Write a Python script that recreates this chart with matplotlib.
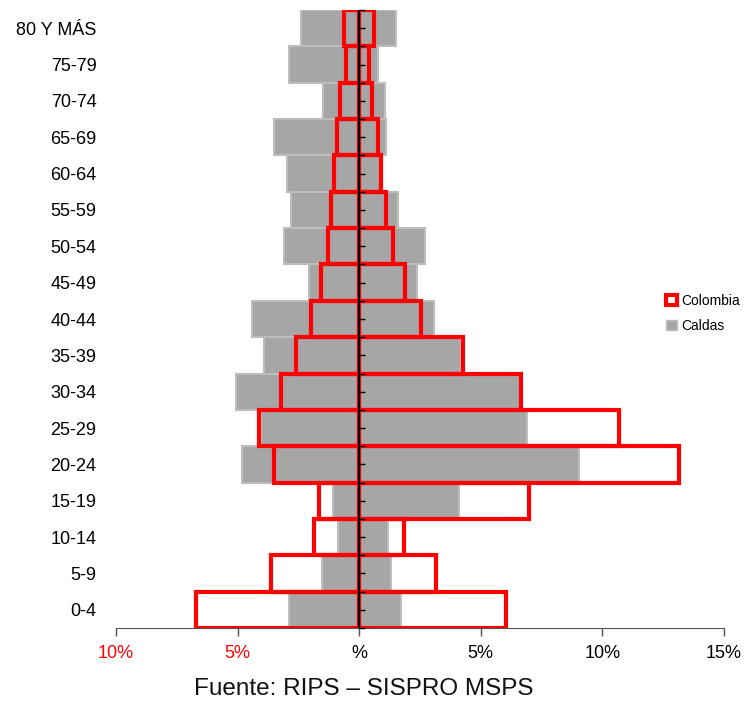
import matplotlib
matplotlib.use("Agg")
import matplotlib.pyplot as plt
import matplotlib.patches as mpatches
import numpy as np

# Age groups, bottom to top
age_groups = ["0-4", "5-9", "10-14", "15-19", "20-24", "25-29", "30-34", "35-39",
              "40-44", "45-49", "50-54", "55-59", "60-64", "65-69", "70-74",
              "75-79", "80 Y MÁS"]

# Share of population (%) per side of the pyramid
caldas_left = [2.88, 1.52, 0.88, 1.06, 4.80, 4.05, 5.08, 3.90, 4.40, 2.07,
               3.08, 2.79, 2.96, 3.52, 1.48, 2.88, 2.39]
caldas_right = [1.71, 1.31, 1.20, 4.10, 9.03, 6.92, 6.60, 4.20, 3.07, 2.39,
                2.72, 1.58, 0.95, 1.09, 1.07, 0.79, 1.51]
colombia_left = [6.70, 3.62, 1.84, 1.67, 3.52, 4.10, 3.22, 2.58, 1.98, 1.57,
                 1.30, 1.18, 1.02, 0.93, 0.79, 0.53, 0.63]
colombia_right = [6.03, 3.17, 1.84, 6.99, 13.13, 10.68, 6.65, 4.25, 2.55, 1.87,
                  1.38, 1.12, 0.89, 0.76, 0.54, 0.41, 0.60]

x_ticks = [-10, -5, 0, 5, 10, 15]
x_tick_labels = ["10%", "5%", "%", "5%", "10%", "15%"]

GRAY = "#a6a6a6"
GRAY_EDGE = "#bdbdbd"
RED = "#ff0000"

plt.rcParams["font.family"] = ["Liberation Sans", "DejaVu Sans"]

fig = plt.figure(figsize=(7.46, 7.01), dpi=100, facecolor="white")
ax = fig.add_axes([0.1555, 0.1041, 0.815, 0.8816])

y = np.arange(len(age_groups))

# Caldas: filled gray bars
ax.barh(y, [-v for v in caldas_left], height=1.0, color=GRAY,
        edgecolor=GRAY_EDGE, linewidth=1.5, zorder=2)
ax.barh(y, caldas_right, height=1.0, color=GRAY,
        edgecolor=GRAY_EDGE, linewidth=1.5, zorder=2)

# Colombia: red outlines
ax.barh(y, [-v for v in colombia_left], height=1.0, fill=False,
        edgecolor=RED, linewidth=3, zorder=3)
ax.barh(y, colombia_right, height=1.0, fill=False,
        edgecolor=RED, linewidth=3, zorder=3)

ax.axvline(0, color="black", linewidth=1.5, zorder=4)

ax.set_xlim(-10, 15)
ax.set_ylim(-0.5, len(age_groups) - 0.5)

ax.set_xticks(x_ticks)
ax.set_xticklabels(x_tick_labels, fontsize=13)
for lbl in ax.get_xticklabels()[:2]:
    lbl.set_color(RED)
ax.tick_params(axis="x", direction="out", length=6, width=1,
               color="#555555", pad=6)

ax.set_yticks(y)
ax.set_yticklabels(age_groups, fontsize=13)
ax.tick_params(axis="y", length=0, pad=14)

for side in ("left", "right", "top"):
    ax.spines[side].set_visible(False)
ax.spines["bottom"].set_color("#555555")

# small ticks along the center line
sec = ax.secondary_yaxis(0.4)
sec.set_zorder(5)
sec.set_yticks(np.arange(-0.5, len(age_groups), 0.5))
sec.set_yticklabels([])
sec.tick_params(direction="in", length=4, width=1, color="black")
sec.spines["left"].set_visible(False)

handles = [
    mpatches.Patch(facecolor="white", edgecolor=RED, linewidth=3, label="Colombia"),
    mpatches.Patch(facecolor=GRAY, edgecolor=GRAY_EDGE, linewidth=1, label="Caldas"),
]
fig.legend(handles=handles, loc="center left", bbox_to_anchor=(0.893, 0.553),
           frameon=False, fontsize=10, handlelength=0.75, handleheight=0.75,
           handletextpad=0.3, labelspacing=0.75, borderpad=0, borderaxespad=0)

fig.text(0.488, 0.008, "Fuente: RIPS – SISPRO MSPS", ha="center", va="baseline",
         fontsize=17.5, color="#111111")

fig.savefig("out.png", dpi=100, facecolor="white")
